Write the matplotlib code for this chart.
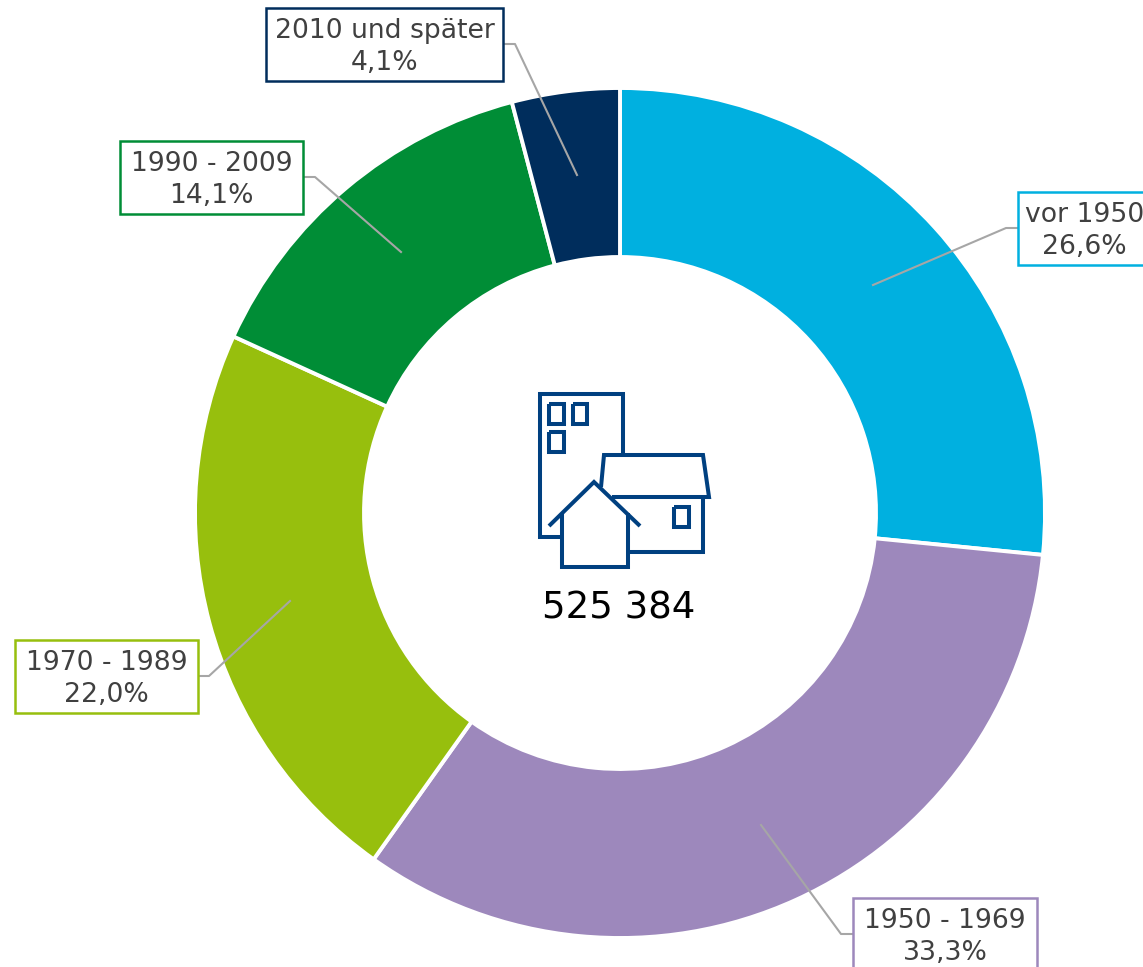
import matplotlib
matplotlib.use('Agg')
import matplotlib.pyplot as plt
from matplotlib.patches import Rectangle

plt.rcParams['font.family'] = ['DejaVu Sans']

# Data
categories = ['vor 1950', '1950 - 1969', '1970 - 1989', '1990 - 2009', '2010 und später']
shares = [26.6, 33.3, 22.0, 14.1, 4.1]
share_labels = ['26,6%', '33,3%', '22,0%', '14,1%', '4,1%']
colors = ['#00B0E0', '#9D88BC', '#97BF0D', '#008D36', '#002D5C']
total_label = '525 384'

W, H = 1143, 967

# label boxes (left, top, right, bottom) in picture pixels
boxes = [(1018, 192, 1150, 265), (853, 898, 1037, 971), (15, 640, 198, 713),
         (120, 141, 303, 214), (266, 8, 503, 81)]
leaders = [[(1018, 228), (1006, 228), (873, 285)],
           [(853, 934), (841, 934), (761, 825)],
           [(198, 676), (209, 676), (290, 601)],
           [(303, 177), (315, 177), (401, 252)],
           [(503, 44), (515, 44), (577, 175)]]


def fy(y):
    return H - y


fig = plt.figure(figsize=(W / 100, H / 100), dpi=100)
ax = fig.add_axes([0, 0, 1, 1])

ax.pie(shares, colors=colors, center=(620, fy(513)), radius=425, startangle=90,
       counterclock=False, frame=True,
       wedgeprops=dict(width=169, edgecolor='white', linewidth=2.8))
ax.set_xlim(0, W)
ax.set_ylim(0, H)
ax.set_aspect('equal')
ax.axis('off')

# Leader lines, boxes and labels
for name, share, col, box, pts in zip(categories, share_labels, colors, boxes, leaders):
    ax.plot([p[0] for p in pts], [fy(p[1]) for p in pts], color='#A6A6A6', lw=1.5, zorder=4)
    l, t, r, b = box
    ax.add_patch(Rectangle((l, fy(b)), r - l, b - t, facecolor='white', edgecolor=col,
                           lw=1.8, zorder=5))
    cx = (l + r) / 2
    if name == 'vor 1950':
        cx = 1084.5
    ax.text(cx, fy(t + 23), name, ha='center', va='center', fontsize=19.2, color='#404040', zorder=6)
    ax.text(cx, fy(t + 55), share, ha='center', va='center', fontsize=19.2, color='#404040', zorder=6)

# Building icon in the middle
icon = '#004080'
icon_lines = [
    [(623, 455), (623, 394), (540, 394), (540, 537), (562, 537)],
    [(549, 404), (564, 404), (564, 424), (549, 424), (549, 404)],
    [(573, 404), (587, 404), (587, 424), (573, 424), (573, 404)],
    [(549, 432), (564, 432), (564, 452), (549, 452), (549, 432)],
    [(601, 487), (604, 455), (703, 455), (709, 497), (612, 497)],
    [(703, 497), (703, 552), (628, 552)],
    [(674, 507), (689, 507), (689, 527), (674, 527), (674, 507)],
    [(549, 526), (594, 482), (640, 526)],
    [(562, 513), (562, 567), (628, 567), (628, 513)],
]
for pts in icon_lines:
    ax.plot([p[0] for p in pts], [fy(p[1]) for p in pts], color=icon, lw=2.9,
            solid_joinstyle='miter', solid_capstyle='butt', zorder=3)

ax.text(619, fy(608), total_label, ha='center', va='center', fontsize=26.7, color='black', zorder=3)

fig.savefig('out.png', dpi=100)
